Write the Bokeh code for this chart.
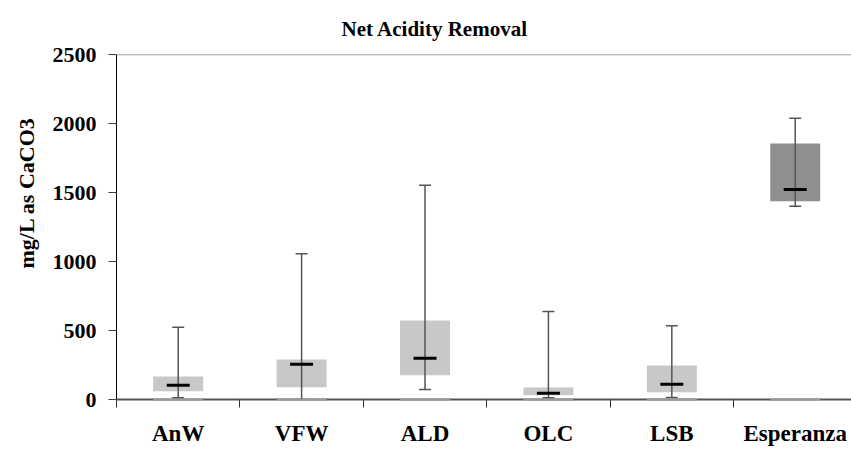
from bokeh.plotting import figure
from bokeh.models import Range1d, FixedTicker, Span, Title, ColumnDataSource
from bokeh.embed import file_html
from bokeh.resources import INLINE

categories = ["AnW", "VFW", "ALD", "OLC", "LSB", "Esperanza"]
minimum = [12, 0, 72, 12, 14, 1401]
q1 = [60, 89, 176, 31, 53, 1437]
median = [104, 256, 299, 46, 111, 1522]
q3 = [167, 290, 572, 87, 246, 1855]
maximum = [524, 1056, 1553, 638, 534, 2038]
box_colors = ["#c8c8c8", "#c8c8c8", "#c8c8c8", "#c8c8c8", "#c8c8c8", "#8f8f8f"]
y_ticks = [0, 500, 1000, 1500, 2000, 2500]

centers = [i + 0.5 for i in range(len(categories))]
bounds = list(range(len(categories) + 1))
baseline = [0] * len(categories)

src = ColumnDataSource(dict(x=centers, q1=q1, q3=q3, med=median,
                            lo=minimum, hi=maximum, color=box_colors, base=baseline))

SERIF = "Liberation Serif"

p = figure(width=851, height=451, x_range=Range1d(0, 5.956), y_range=Range1d(y_ticks[0], y_ticks[-1]),
           output_backend="svg", toolbar_location=None,
           min_border_left=116, min_border_right=0, min_border_top=54, min_border_bottom=52)
p.outline_line_color = None
p.xgrid.grid_line_color = None
p.ygrid.grid_line_color = None

p.vbar(x="x", width=0.405, bottom="q1", top="q3", fill_color="color", line_color=None, source=src)
p.dash(x="x", y="base", size=50, line_color="#9a9a9a", line_width=2, source=src, level="overlay")
p.segment(x0="x", y0="lo", x1="x", y1="hi", line_color="#555555", line_width=1.5, source=src)
p.dash(x="x", y="hi", size=12, line_color="#555555", line_width=1.5, source=src)
p.dash(x="x", y="lo", size=12, line_color="#555555", line_width=1.5, source=src)
p.dash(x="x", y="med", size=23, line_color="black", line_width=3, source=src)

p.add_layout(Span(location=y_ticks[-1], dimension="width", line_color="#808080", line_width=1.5))

# x axis
p.xaxis.ticker = FixedTicker(ticks=centers, minor_ticks=bounds)
p.xaxis.major_label_overrides = {c: n for c, n in zip(centers, categories)}
p.xaxis.major_tick_line_color = None
p.xaxis.major_tick_out = 8
p.xaxis.major_tick_in = 0
p.xaxis.minor_tick_out = 8
p.xaxis.minor_tick_in = 0
p.xaxis.minor_tick_line_color = "#333333"
p.xaxis.axis_line_color = "#555555"
p.xaxis.axis_line_width = 2
p.xaxis.major_label_text_font = SERIF
p.xaxis.major_label_text_font_style = "bold"
p.xaxis.major_label_text_font_size = "23px"
p.xaxis.major_label_text_color = "black"
p.xaxis.major_label_standoff = 13

# y axis
p.yaxis.ticker = FixedTicker(ticks=y_ticks)
p.yaxis.minor_tick_line_color = None
p.yaxis.major_tick_out = 8
p.yaxis.major_tick_in = 0
p.yaxis.major_tick_line_color = "#404040"
p.yaxis.axis_line_color = "black"
p.yaxis.major_label_text_font = SERIF
p.yaxis.major_label_text_font_style = "bold"
p.yaxis.major_label_text_font_size = "22px"
p.yaxis.major_label_text_color = "black"
p.yaxis.major_label_standoff = 12

yt = Title(text="mg/L as  CaCO3", align="right", offset=57, text_font=SERIF,
           text_font_size="22px", text_font_style="bold", text_color="black", standoff=22)
p.add_layout(yt, "left")

p.title.text = "Net Acidity Removal"
p.title.align = "left"
p.title.offset = 225
p.title.text_font = SERIF
p.title.text_font_size = "21px"
p.title.text_font_style = "bold"
p.title.text_color = "black"
p.title.standoff = 28

open("out.html", "w").write(file_html(p, INLINE))
